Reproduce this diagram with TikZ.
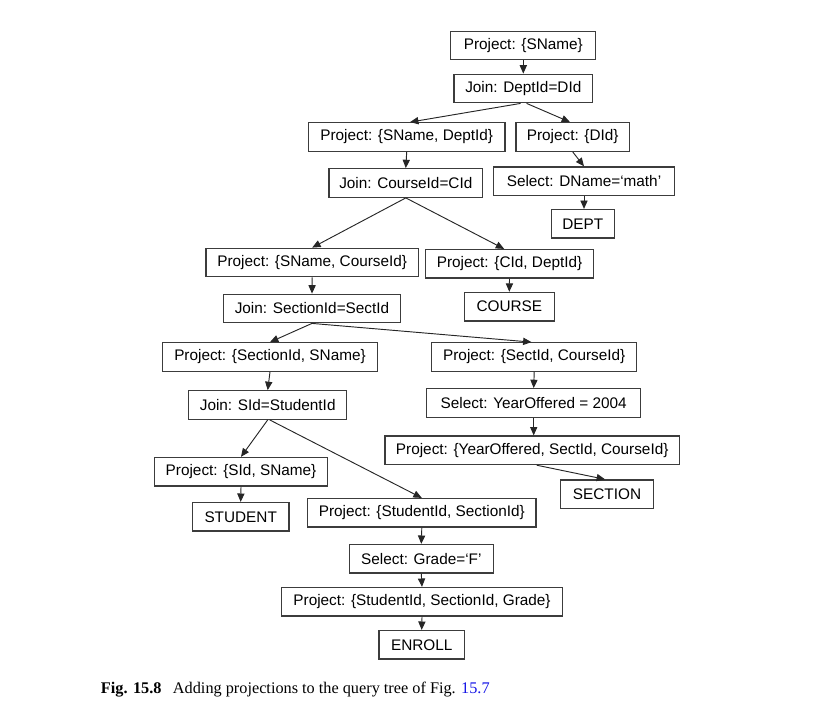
\documentclass[tikz,border=0pt]{standalone}
\usepackage{fontspec}
\setmainfont{Liberation Serif}
\newfontfamily\boxfont{Liberation Sans}
\usetikzlibrary{arrows.meta}
\definecolor{boxline}{RGB}{60,60,60}
\definecolor{reflink}{RGB}{20,20,230}
\begin{document}
\begin{tikzpicture}[x=0.75pt,y=-0.75pt,
  box/.style={draw=boxline, line width=0.95pt, minimum height=21.4pt, inner sep=0pt,
    minimum width=#1*0.75pt, font=\boxfont\fontsize{11.5pt}{13pt}\selectfont, text=black},
  arr/.style={draw=black!85, line width=0.7pt, -{Triangle[length=6.3pt,width=5.4pt]}}]
\useasboundingbox (0,0) rectangle (835,726);

\node[box=145]   (b1)  at (523.3,45.5)  {Project: {\{}SName\}};
\node[box=138.7] (b2)  at (523.3,88.5)  {Join: DeptId=DId};
\node[box=196.7] (b3)  at (406.7,137)   {Project: \{SName, DeptId\}};
\node[box=113.3] (b4)  at (572.7,137)   {Project: \{DId\}};
\node[box=153.7] (b5)  at (405.8,183)   {Join: CourseId=CId};
\node[box=181.7] (b6)  at (584,181.2)   {Select: DName=‘math’};
\node[box=63]    (b7)  at (582.8,223.8) {DEPT};
\node[box=212.3] (b8)  at (312.2,262.5) {Project: \{SName, CourseId\}};
\node[box=167.7] (b9)  at (509.5,263.8) {Project: \{CId, DeptId\}};
\node[box=90]    (b10) at (509.3,306.7) {COURSE};
\node[box=177.3] (b11) at (312,308.5)   {Join: SectionId=SectId};
\node[box=214.7] (b12) at (270,357)     {Project: \{SectionId, SName\}};
\node[box=205]   (b13) at (534.2,357)   {Project: \{SectId, CourseId\}};
\node[box=158]   (b14) at (267.7,405)   {Join: SId=StudentId};
\node[box=214]   (b15) at (533.7,403)   {Select: YearOffered = 2004};
\node[box=294.3] (b16) at (532.2,450.3) {Project: \{YearOffered, SectId, CourseId\}};
\node[box=173.3] (b17) at (241,471.7)   {Project: \{SId, SName\}};
\node[box=92.7]  (b18) at (607,494.2)   {SECTION};
\node[box=96.7]  (b19) at (240.7,516.8) {STUDENT};
\node[box=228.3] (b20) at (421.8,512.8) {Project: \{StudentId, SectionId\}};
\node[box=144]   (b21) at (421.3,558.8) {Select: Grade=‘F’};
\node[box=280.7] (b22) at (422,601.8)   {Project: \{StudentId, SectionId, Grade\}};
\node[box=85.3]  (b23) at (421.7,644.8) {ENROLL};

\draw[arr] (b1.south) -- (b2.north);
\draw[arr] ([xshift=-2pt]b2.south) -- ([xshift=2.5pt]b3.north);
\draw[arr] ([xshift=2.5pt]b2.south) -- ([xshift=-2pt]b4.north);
\draw[arr] (b3.south) -- (b5.north);
\draw[arr] (b4.south) -- (b6.north);
\draw[arr] (b6.south) -- (b6.south |- b7.north);
\draw[arr] (b5.south) -- (b8.north);
\draw[arr] (b5.south) -- ([xshift=-4pt]b9.north);
\draw[arr] (b8.south) -- (b11.north);
\draw[arr] (b9.south) -- (b10.north);
\draw[arr] (b11.south) -- (b12.north);
\draw[arr] (b11.south) -- ([xshift=-2pt]b13.north);
\draw[arr] (b12.south) -- (b14.north);
\draw[arr] (b13.south) -- (b15.north);
\draw[arr] (b14.south) -- (b17.north);
\draw[arr] ([xshift=1.5pt]b14.south) -- (b20.north);
\draw[arr] (b15.south) -- (b15.south |- b16.north);
\draw[arr] ([xshift=3.4pt]b16.south) -- ([xshift=-1.5pt]b18.north);
\draw[arr] (b17.south) -- (b19.north);
\draw[arr] (b20.south) -- (b21.north);
\draw[arr] (b21.south) -- (b22.north);
\draw[arr] (b22.south) -- (b23.north);

\node[anchor=base west, inner sep=0pt, font=\fontsize{12.2pt}{14pt}\selectfont] (cap) at (100.7,693.3)
  {\textbf{Fig. 15.8}\hspace{8.6pt}Adding projections to the query tree of Fig. \textcolor{reflink}{15.7}};
\end{tikzpicture}
\end{document}
